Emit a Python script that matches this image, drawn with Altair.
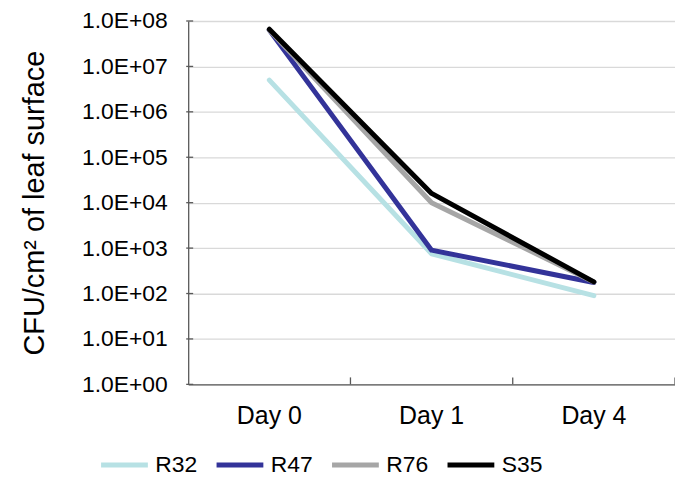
import altair as alt
import pandas as pd

days = ["Day 0", "Day 1", "Day 4"]
series = ["R32", "R47", "R76", "S35"]
colors = ["#B7E1E4", "#333399", "#A6A6A6", "#000000"]
r32 = [5.0e6, 7.5e2, 9.0e1]
r47 = [6.3e7, 9.0e2, 1.75e2]
r76 = [6.3e7, 1.0e4, 1.8e2]
s35 = [6.6e7, 1.6e4, 1.8e2]
y_ticks = [1, 1e1, 1e2, 1e3, 1e4, 1e5, 1e6, 1e7, 1e8]

rows = []
for name, vals in zip(series, [r32, r47, r76, s35]):
    for i, (d, v) in enumerate(zip(days, vals)):
        rows.append({"series": name, "day": d, "cfu": v, "order": i})
df = pd.DataFrame(rows)

W, H = 489, 365
FONT = "Liberation Sans"

x_scale = alt.Scale(type="band", domain=days, paddingInner=0, paddingOuter=0)
x_axis = alt.Axis(title=None, labelFontSize=25, labelPadding=19, ticks=False,
                  domainColor="#595959", domainWidth=1.3, labelColor="#000000",
                  labelFont=FONT, grid=False, labelAngle=0)
y_scale = alt.Scale(type="log", domain=[1, 1e8], nice=False)
y_axis = alt.Axis(title="CFU/cm² of leaf surface", values=y_ticks,
                  labelExpr="'1.0E+0' + format(log(datum.value) / log(10), '.0f')",
                  labelFontSize=23, labelPadding=21, ticks=False,
                  titleFontSize=29, titleFontWeight="normal", titlePadding=32,
                  titleFont=FONT, labelFont=FONT, titleColor="#000000",
                  labelColor="#000000", domainColor="#595959", domainWidth=1.3,
                  gridColor="#D9D9D9", gridWidth=1.3)

lines = alt.Chart(df).mark_line(strokeWidth=5, strokeCap="round", strokeJoin="round").encode(
    x=alt.X("day:N", sort=days, scale=x_scale, axis=x_axis),
    y=alt.Y("cfu:Q", scale=y_scale, axis=y_axis),
    color=alt.Color("series:N", scale=alt.Scale(domain=series, range=colors),
                    legend=alt.Legend(title=None, orient="none", legendX=-90, legendY=420,
                                      direction="horizontal", columns=4, columnPadding=8,
                                      symbolType="stroke", symbolSize=2209, symbolStrokeWidth=5,
                                      labelFontSize=23, labelFont=FONT, labelColor="#000000",
                                      labelOffset=5)),
    order="order:Q",
)

xticks = alt.Chart(pd.DataFrame({"day": days})).mark_rule(color="#595959", strokeWidth=1.3).encode(
    x=alt.X("day:N", sort=days, scale=x_scale, bandPosition=1, axis=x_axis),
    y=alt.value(H - 7),
    y2=alt.value(H),
)

yticks = alt.Chart(pd.DataFrame({"cfu": y_ticks})).mark_rule(color="#595959", strokeWidth=1.3).encode(
    y=alt.Y("cfu:Q", scale=y_scale, axis=y_axis),
    x=alt.value(-2),
    x2=alt.value(5),
)

chart = alt.layer(lines, xticks, yticks).properties(
    width=W, height=H,
    autosize=alt.AutoSizeParams(type="none"),
    padding={"left": 181, "top": 12, "right": 0, "bottom": 92},
).configure_view(stroke=None)

chart.save("out.html", embed_options={"renderer": "svg", "actions": False})
